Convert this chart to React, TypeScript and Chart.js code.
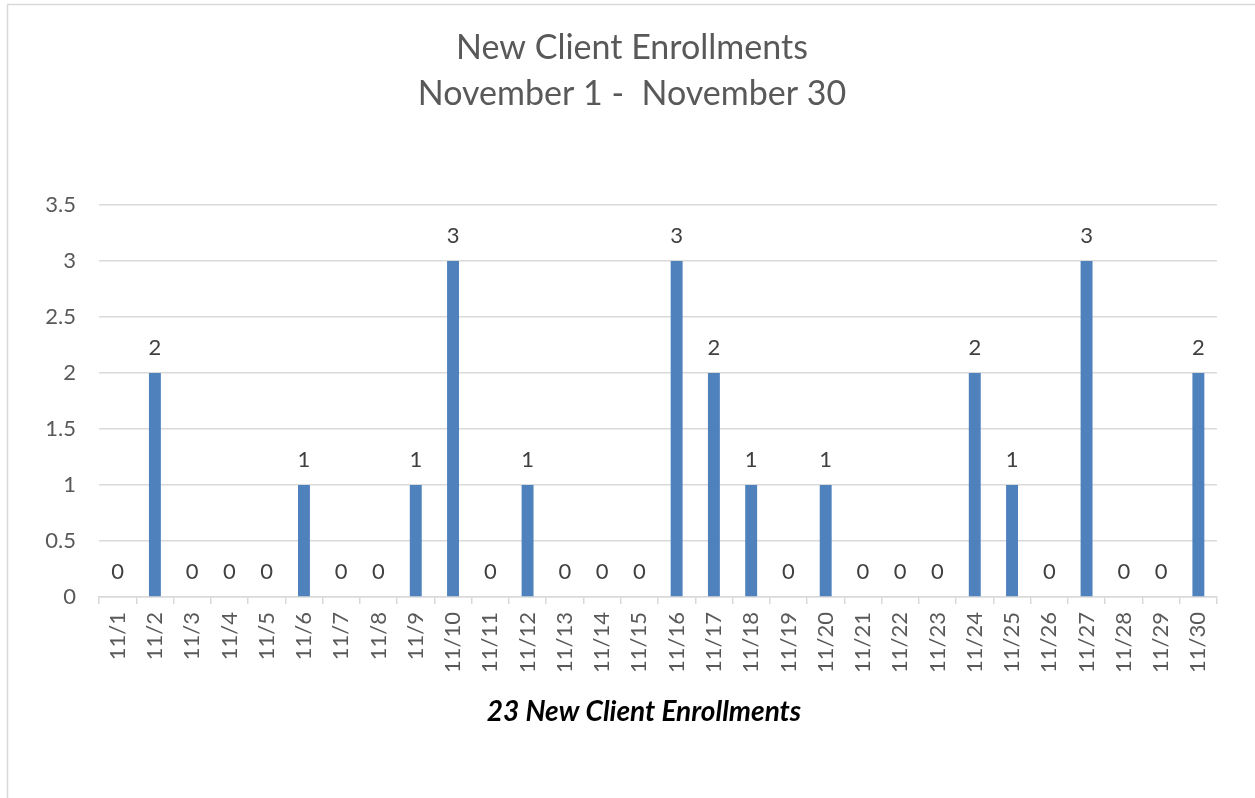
import React, { useEffect, useRef } from "react";
import { Chart, registerables } from "chart.js";

Chart.register(...registerables);

const categories: string[] = [
  "11/1", "11/2", "11/3", "11/4", "11/5", "11/6", "11/7", "11/8", "11/9", "11/10",
  "11/11", "11/12", "11/13", "11/14", "11/15", "11/16", "11/17", "11/18", "11/19", "11/20",
  "11/21", "11/22", "11/23", "11/24", "11/25", "11/26", "11/27", "11/28", "11/29", "11/30",
];
const enrollments: number[] = [
  0, 2, 0, 0, 0, 1, 0, 0, 1, 3,
  0, 1, 0, 0, 0, 3, 2, 1, 0, 1,
  0, 0, 0, 2, 1, 0, 3, 0, 0, 2,
];
const titleLines: string[] = ["New Client Enrollments", "November 1 -  November 30"];
const caption = "23 New Client Enrollments";
const yTicks = { min: 0, max: 3.5, step: 0.5 };

const FONT = "Lato";

const decorPlugin = {
  id: "decor",
  beforeDraw(chart: any) {
    const ctx = chart.ctx;
    ctx.save();
    ctx.fillStyle = "#ffffff";
    ctx.fillRect(0, 0, chart.width, chart.height);
    ctx.strokeStyle = "#d9d9d9";
    ctx.lineWidth = 1.5;
    ctx.strokeRect(7.5, 4.5, chart.width + 50, chart.height + 50);
    ctx.restore();
  },
  afterDraw(chart: any) {
    const ctx = chart.ctx;
    ctx.save();
    ctx.textAlign = "center";
    ctx.textBaseline = "middle";
    ctx.fillStyle = "#595959";
    ctx.font = `34px ${FONT}`;
    ctx.fillText(titleLines[0], 632, 48);
    ctx.fillText(titleLines[1], 632, 94);
    ctx.fillStyle = "#000000";
    ctx.font = `italic bold 28px ${FONT}`;
    ctx.fillText(caption, 644, 712);
    ctx.restore();
  },
  afterDatasetsDraw(chart: any) {
    const ctx = chart.ctx;
    const meta = chart.getDatasetMeta(0);
    const data = chart.data.datasets[0].data;
    ctx.save();
    ctx.textAlign = "center";
    ctx.textBaseline = "middle";
    ctx.fillStyle = "#404040";
    ctx.font = `22px ${FONT}`;
    meta.data.forEach((bar: any, i: number) => {
      ctx.fillText(String(data[i]), bar.x, bar.y - 25);
    });
    ctx.restore();
  },
};

export default function App() {
  const ref = useRef<HTMLCanvasElement | null>(null);
  useEffect(() => {
    if (!ref.current) return;
    const chart = new Chart(ref.current, {
      type: "bar",
      data: {
        labels: categories,
        datasets: [
          {
            data: enrollments,
            backgroundColor: "#4f81bd",
            categoryPercentage: 1,
            barPercentage: 0.32,
          },
        ],
      },
      options: {
        responsive: false,
        animation: false,
        layout: { padding: { top: 205, right: 38, left: 0, bottom: 0 } },
        plugins: {
          legend: { display: false },
          tooltip: { enabled: false },
          title: { display: false },
        },
        scales: {
          x: {
            grid: {
              drawOnChartArea: false,
              drawTicks: true,
              tickLength: 7,
              color: "#d9d9d9",
              lineWidth: 1.5,
            },
            border: { color: "#d9d9d9", width: 1.5 },
            ticks: {
              autoSkip: false,
              minRotation: 90,
              maxRotation: 90,
              padding: 8,
              color: "#595959",
              font: { family: FONT, size: 22 },
            },
            afterFit(scale: any) {
              scale.height = 201;
            },
          },
          y: {
            min: yTicks.min,
            max: yTicks.max,
            ticks: {
              stepSize: yTicks.step,
              padding: 23,
              color: "#595959",
              font: { family: FONT, size: 22 },
              callback: (v: any) => String(Number(v)),
            },
            grid: { color: "#d9d9d9", lineWidth: 1.5, drawTicks: false },
            border: { display: false },
            afterFit(scale: any) {
              scale.width = 99;
            },
          },
        },
      },
      plugins: [decorPlugin],
    });
    return () => chart.destroy();
  }, []);
  return (
    <div style={{ position: "absolute", left: 0, top: 0, width: 1255, height: 798 }}>
      <canvas ref={ref} width={1255} height={798} style={{ display: "block" }} />
    </div>
  );
}
